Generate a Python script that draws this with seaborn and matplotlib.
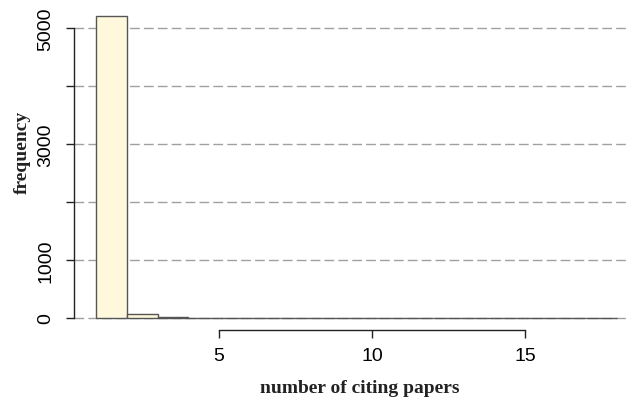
import numpy as np
import pandas as pd
import matplotlib
matplotlib.use("Agg")
import matplotlib.pyplot as plt
import seaborn as sns

# data
bin_lefts = list(range(1, 18))
counts = [5207, 65, 22, 4, 2, 1, 1, 0, 0, 0, 0, 0, 0, 0, 0, 0, 0]
y_ticks = [0, 1000, 2000, 3000, 4000, 5000]
y_ticklabels = ["0", "1000", "", "3000", "", "5000"]
x_ticks = [5, 10, 15]
x_ticklabels = ["5", "10", "15"]

sns.set_theme(style="white")
plt.rcParams['font.family'] = ['Liberation Sans', 'DejaVu Sans']

df = pd.DataFrame({"x": [b + 0.5 for b in bin_lefts], "w": counts})
edges = bin_lefts + [bin_lefts[-1] + 1]

fig = plt.figure(figsize=(6.33, 4.06), dpi=100)
ax = fig.add_axes([74/633, 1-331/406, (626-74)/633, (331-5)/406])

for yv in y_ticks:
    ax.axhline(yv, color="#a0a0a0", lw=1.0, ls=(0, (7, 3)), zorder=0)

sns.histplot(data=df, x="x", weights="w", bins=edges, stat="count",
             color="#FFF8DC", edgecolor="#555555", linewidth=1.0, alpha=1,
             ax=ax, zorder=2)

ax.set_xlim(0.27, 18.3)
ax.set_ylim(-208, 5415)

for s in ["top", "right"]:
    ax.spines[s].set_visible(False)
ax.spines["left"].set_bounds(0, 5000)
ax.spines["bottom"].set_bounds(5, 15)
for s in ["left", "bottom"]:
    ax.spines[s].set_color("#222222")
    ax.spines[s].set_linewidth(1.0)

ax.set_yticks(y_ticks)
ax.set_yticklabels(y_ticklabels, rotation=90, va="center", fontsize=14, color="black")
ax.set_xticks(x_ticks)
ax.set_xticklabels(x_ticklabels, fontsize=14, color="black")
ax.tick_params(axis="both", which="major", length=6, width=1.0, color="#222222",
               left=True, bottom=True, pad=6)
ax.tick_params(axis="y", pad=8)
ax.grid(False)

ax.set_xlabel("number of citing papers", fontsize=14, fontweight="bold", color="#222222",
              family=["Liberation Serif", "DejaVu Serif"])
ax.set_ylabel("frequency", fontsize=14, fontweight="bold", color="#222222",
              family=["Liberation Serif", "DejaVu Serif"])
ax.xaxis.set_label_coords((360 - 74) / 552, (331 - 380) / 326)
ax.yaxis.set_label_coords((31 - 74) / 552, (331 - 152) / 326)

fig.savefig("out.png", dpi=100)
